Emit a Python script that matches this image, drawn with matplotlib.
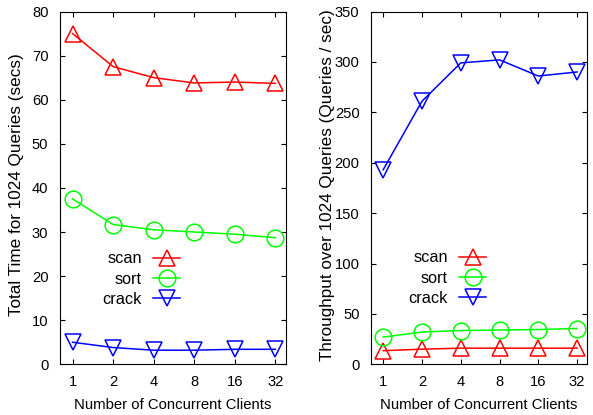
import matplotlib
matplotlib.use("Agg")
import matplotlib.pyplot as plt
import numpy as np

plt.rcParams['font.family'] = ['Liberation Sans', 'DejaVu Sans']

clients = [1, 2, 4, 8, 16, 32]
tick_labels = ["1", "2", "4", "8", "16", "32"]

time_scan = [75.0, 67.5, 65.0, 63.8, 64.0, 63.7]
time_sort = [37.5, 31.7, 30.5, 30.0, 29.5, 28.7]
time_crack = [5.0, 3.8, 3.2, 3.2, 3.4, 3.4]

tp_scan = [13.5, 15.0, 16.0, 16.0, 16.0, 16.0]
tp_sort = [27.0, 32.0, 33.5, 34.0, 34.5, 35.5]
tp_crack = [193.0, 261.0, 299.0, 302.0, 286.0, 290.0]

W, H = 593, 415
fig = plt.figure(figsize=(W / 100, H / 100), dpi=100)

def ax_rect(l, r, t, b):
    return [l / W, 1 - b / H, (r - l) / W, (b - t) / H]

ax1 = fig.add_axes(ax_rect(59.5, 285.5, 11.5, 364.3))
ax2 = fig.add_axes(ax_rect(370.7, 586.7, 11.5, 364.3))

styles = [
    ("scan", "#ff0000", "^"),
    ("sort", "#00ff00", "o"),
    ("crack", "#0000ff", "v"),
]

def draw(ax, series, ymax, ystep, ylabel, label_x, leg_anchor):
    x = np.log2(clients)
    for (name, color, marker), vals in zip(styles, series):
        ms = 12 if marker == "o" else 11
        ax.plot(x, vals, color=color, marker=marker, markersize=ms,
                markerfacecolor="none", markeredgecolor=color,
                markeredgewidth=1.1, linewidth=1.1, label=name)
    ax.set_xlim(np.log2(0.8), np.log2(38))
    ax.set_ylim(0, ymax)
    ax.set_xticks(x)
    ax.set_xticklabels(tick_labels)
    ax.set_yticks(np.arange(0, ymax + 0.1, ystep))
    ax.tick_params(direction="in", top=True, right=True, length=3.6,
                   width=0.8, labelsize=10.6, pad=8)
    ax.set_xlabel("Number of Concurrent Clients", fontsize=10.7, labelpad=6.5)
    ax.set_ylabel(ylabel, fontsize=12.3)
    ax.yaxis.set_label_coords(label_x, 0.508)
    for s in ax.spines.values():
        s.set_linewidth(0.8)
    ax.legend(loc="center right", bbox_to_anchor=leg_anchor,
              bbox_transform=fig.transFigure, frameon=False,
              markerfirst=False, fontsize=11.7, handlelength=1.66,
              handletextpad=0.68, labelspacing=0.32, borderpad=0,
              borderaxespad=0)

draw(ax1, [time_scan, time_sort, time_crack], 80, 10,
     "Total Time for 1024 Queries (secs)", -0.159, (180 / W, 1 - 279 / H))
draw(ax2, [tp_scan, tp_sort, tp_crack], 350, 50,
     "Throughput over 1024 Queries (Queries / sec)", -0.165, (486 / W, 1 - 278 / H))

fig.savefig("out.png", dpi=100)
